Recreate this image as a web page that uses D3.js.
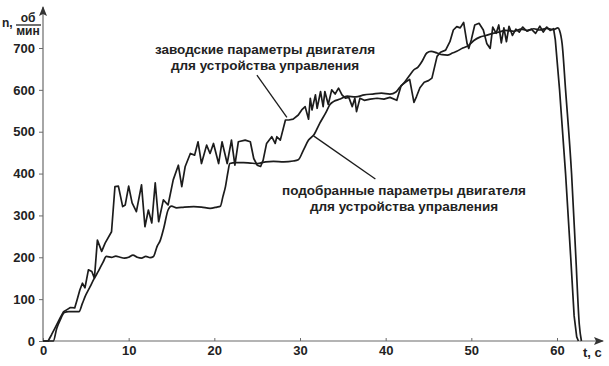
<!DOCTYPE html>
<html>
<head>
<meta charset="utf-8">
<script src="https://cdn.jsdelivr.net/npm/d3@7"></script>
<style>
  body { margin: 0; background: #fff; }
  svg { display: block; font-family: "Liberation Sans", Arial, sans-serif; }
</style>
</head>
<body>
<div id="chart"></div>
<script>
// time ticks (s) and speed ticks (rpm)
const xTicks = [0, 10, 20, 30, 40, 50, 60];
const yTicks = [0, 100, 200, 300, 400, 500, 600, 700];

// factory motor parameters (noisy curve), [t, n]
const factory = [
  [0,0],[0.6,0],[1.0,15],[1.5,35],[2.0,55],[2.4,70],[2.8,75],[3.2,80],[3.7,79],[4.0,100],
  [4.3,122],[4.6,138],[4.9,127],[5.3,170],[5.7,166],[6.0,150],[6.35,241],[6.85,214],[7.25,234],
  [8.0,261],[8.4,369],[8.8,370],[9.3,321],[9.6,325],[10.0,370],[10.4,330],[10.9,309],[11.5,373],
  [11.9,273],[12.3,313],[12.7,282],[13.1,378],[13.5,285],[14.05,337],[14.6,325],[15.2,385],
  [15.8,420],[16.2,369],[16.6,417],[17.2,448],[17.7,444],[18.1,476],[18.5,424],[19.1,468],
  [19.5,448],[19.9,472],[20.5,424],[20.9,476],[21.5,424],[22.0,480],[22.4,420],[22.8,476],
  [23.6,480],[24.2,476],[24.6,436],[25.0,420],[25.4,417],[25.7,432],[26.1,472],[26.7,488],
  [27.1,472],[27.3,488],[27.7,480],[28.3,528],[28.7,528],[29.2,530],[29.8,540],[30.2,552],
  [30.6,560],[31.0,530],[31.2,580],[31.4,552],[31.8,588],[32.0,556],[32.4,596],[32.7,560],
  [32.9,596],[33.3,565],[33.7,600],[34.1,590],[34.5,604],[34.9,588],[35.3,580],[35.7,582],
  [36.1,560],[36.4,580],[36.6,548],[37.0,580],[37.5,575],[38.2,578],[39.0,580],[39.8,578],
  [40.5,582],[41.3,575],[41.8,610],[42.3,618],[42.8,625],[43.3,570],[43.6,584],[44.0,605],
  [44.5,618],[45.0,622],[45.4,628],[46.0,680],[46.4,690],[47.0,695],[47.5,715],[47.9,743],
  [48.3,751],[48.7,748],[49.1,761],[49.5,711],[49.7,699],[50.0,720],[50.4,755],[50.9,759],
  [51.4,743],[51.8,711],[52.2,699],[52.5,750],[52.9,735],[53.2,755],[53.5,712],[53.8,748],
  [54.1,715],[54.4,752],[54.8,730],[55.2,745],[55.6,738],[56.0,750],[56.5,740],[57.0,745],
  [57.5,735],[58.0,752],[58.4,738],[58.8,750],[59.2,742],[59.6,746],[59.8,720],[60.3,600],
  [61.0,400],[61.6,200],[62.0,60],[62.3,10],[62.5,0]
];

// selected motor parameters (smoother curve), [t, n]
const selected = [
  [0,0],[1.2,0],[1.6,30],[2.0,50],[2.5,68],[3.0,70],[4.2,70],[4.6,90],[5.0,110],[5.5,130],
  [6.0,150],[6.5,168],[7.0,188],[7.4,202],[8.0,200],[8.5,203],[9.0,200],[9.5,198],[10.0,200],
  [10.5,205],[11.0,200],[11.5,198],[12.0,202],[12.5,199],[12.9,202],[13.3,225],[13.7,241],
  [14.1,270],[14.6,313],[15.0,322],[15.6,318],[16.5,320],[17.6,321],[18.5,320],[19.5,317],
  [20.3,320],[20.7,322],[21.0,345],[21.3,369],[21.6,405],[21.8,424],[22.5,426],[23.4,426],
  [24.2,425],[25.0,424],[26.0,428],[26.9,429],[28.1,428],[29.2,430],[29.8,433],[30.4,456],
  [31.0,480],[31.6,492],[32.3,520],[33.0,545],[33.5,565],[33.9,572],[34.7,578],[35.5,585],
  [36.5,583],[37.5,588],[38.5,590],[39.5,592],[40.5,590],[41.2,595],[41.6,605],[42.2,618],
  [42.8,635],[43.3,648],[43.8,655],[44.3,670],[44.8,688],[45.3,692],[46.0,688],[46.6,684],
  [47.2,683],[47.8,688],[48.3,692],[49.0,700],[49.6,705],[50.3,718],[51.0,726],[51.7,730],
  [52.5,735],[53.2,738],[54.0,742],[55.0,740],[55.8,745],[56.5,742],[57.3,746],[58.0,743],
  [58.8,747],[59.6,744],[60.1,748],[60.3,742],[60.6,710],[61.0,600],[61.7,400],[62.2,200],
  [62.6,40],[62.85,0]
];

// annotation texts and leader lines (line ends in data units)
const labelFactory = ["заводские параметры двигателя", "для устройства управления"];
const labelSelected = ["подобранные параметры двигателя", "для устройства управления"];
const leaderFactory = [[24.97, 635], [28.47, 534]];
const leaderSelected = [[38.8, 387], [31.58, 490]];

const width = 609, height = 366;
const svg = d3.select("#chart").append("svg")
  .attr("width", width)
  .attr("height", height);

const x = d3.scaleLinear().domain([0, 60]).range([43, 557]);
const y = d3.scaleLinear().domain([0, 700]).range([341, 48]);

const axisColor = "#6b6b6b";
const ink = "#1c1c1c";

// axes with arrows
svg.append("defs").append("marker")
  .attr("id", "arrow")
  .attr("viewBox", "0 0 10 10")
  .attr("refX", 9).attr("refY", 5)
  .attr("markerWidth", 10).attr("markerHeight", 10)
  .attr("markerUnits", "userSpaceOnUse")
  .attr("orient", "auto")
  .append("path")
    .attr("d", "M0,1 L10,5 L0,9 L2,5 Z")
    .attr("fill", "#333");

svg.append("line")
  .attr("x1", x(0)).attr("y1", y(0))
  .attr("x2", 603).attr("y2", y(0))
  .attr("stroke", axisColor).attr("stroke-width", 1.2)
  .attr("marker-end", "url(#arrow)");

svg.append("line")
  .attr("x1", x(0)).attr("y1", y(0))
  .attr("x2", x(0)).attr("y2", 7)
  .attr("stroke", axisColor).attr("stroke-width", 1.2)
  .attr("marker-end", "url(#arrow)");

const gx = svg.append("g")
  .attr("transform", `translate(0,${y(0)})`)
  .call(d3.axisBottom(x).tickValues(xTicks).tickSize(-3).tickPadding(6));
gx.select(".domain").remove();

const gy = svg.append("g")
  .attr("transform", `translate(${x(0)},0)`)
  .call(d3.axisLeft(y).tickValues(yTicks).tickSize(4).tickPadding(4));
gy.select(".domain").remove();

svg.selectAll(".tick line").attr("stroke", axisColor);
svg.selectAll(".tick text")
  .attr("fill", "#222")
  .style("font-size", "13px")
  .style("font-weight", "bold")
  .style("font-family", "'Liberation Sans', Arial, sans-serif");
gx.selectAll(".tick text").attr("dy", "0.65em");

// axis titles
svg.append("text")
  .attr("x", 583).attr("y", 357)
  .attr("fill", "#222")
  .style("font-size", "13px").style("font-weight", "bold")
  .text("t, c");

svg.append("text")
  .attr("x", 2).attr("y", 27)
  .attr("fill", "#222")
  .style("font-size", "12px").style("font-weight", "bold")
  .text("n,");
svg.append("text")
  .attr("x", 28).attr("y", 22)
  .attr("text-anchor", "middle")
  .attr("fill", "#222")
  .style("font-size", "12px").style("font-weight", "bold")
  .text("об");
svg.append("line")
  .attr("x1", 16).attr("x2", 41).attr("y1", 25).attr("y2", 25)
  .attr("stroke", "#222").attr("stroke-width", 1.3);
svg.append("text")
  .attr("x", 28).attr("y", 35)
  .attr("text-anchor", "middle")
  .attr("fill", "#222")
  .style("font-size", "12px").style("font-weight", "bold")
  .text("мин");

// curves
const line = d3.line()
  .x(d => x(d[0]))
  .y(d => y(d[1]));

svg.append("path")
  .datum(selected)
  .attr("fill", "none")
  .attr("stroke", ink)
  .attr("stroke-width", 1.7)
  .attr("stroke-linejoin", "round")
  .attr("d", line.curve(d3.curveMonotoneX));

svg.append("path")
  .datum(factory)
  .attr("fill", "none")
  .attr("stroke", ink)
  .attr("stroke-width", 1.7)
  .attr("stroke-linejoin", "round")
  .attr("d", line.curve(d3.curveLinear));

// annotations
[leaderFactory, leaderSelected].forEach(l => {
  svg.append("line")
    .attr("x1", x(l[0][0])).attr("y1", y(l[0][1]))
    .attr("x2", x(l[1][0])).attr("y2", y(l[1][1]))
    .attr("stroke", ink).attr("stroke-width", 1.3);
});

function block(lines, cx, y0) {
  svg.append("g").selectAll("text")
    .data(lines)
    .join("text")
      .attr("x", cx)
      .attr("y", (d, i) => y0 + i * 16)
      .attr("text-anchor", "middle")
      .attr("fill", "#222")
      .style("font-size", "13.5px")
      .style("font-weight", "bold")
      .text(d => d);
}
block(labelFactory, 265, 54);
block(labelSelected, 404, 195);
</script>
</body>
</html>
